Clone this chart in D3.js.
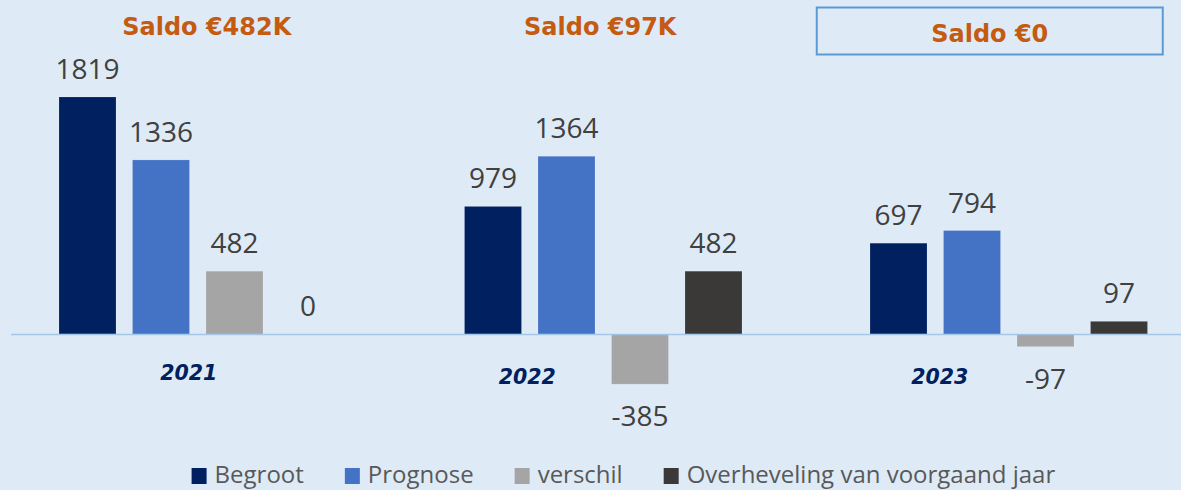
<!DOCTYPE html>
<html>
<head>
<meta charset="utf-8">
<script src="https://cdn.jsdelivr.net/npm/d3@7"></script>
<style>
  html, body { margin: 0; padding: 0; background: #deebf7; }
  svg { display: block; }
</style>
</head>
<body>
<svg id="chart"></svg>
<script>
// data
const years = ["2021", "2022", "2023"];
const seriesNames = ["Begroot", "Prognose", "verschil", "Overheveling van voorgaand jaar"];
const begroot = [1819, 979, 697];
const prognose = [1336, 1364, 794];
const verschil = [482, -385, -97];
const overheveling = [0, 482, 97];
const saldoLabels = ["Saldo €482K", "Saldo €97K", "Saldo €0"];

const colors = ["#002060", "#4472c4", "#a5a5a5", "#3b3838"];
const width = 1181, height = 490;

const svg = d3.select("#chart")
  .attr("width", width)
  .attr("height", height);

// build rows for each bar
const values = [begroot, prognose, verschil, overheveling];
const rows = [];
years.forEach((yr, i) => {
  seriesNames.forEach((s, j) => {
    rows.push({ year: yr, series: s, value: values[j][i], color: colors[j] });
  });
});

// scales
const x0 = d3.scaleBand()
  .domain(years)
  .range([59, 1147.5])
  .paddingInner(0.3157);

const x1 = d3.scaleBand()
  .domain(seriesNames)
  .range([0, x0.bandwidth()])
  .paddingInner(0.2245);

const y = d3.scaleLinear()
  .domain([0, 1819])
  .range([334, 97]);

// bars
svg.append("g")
  .selectAll("rect")
  .data(rows)
  .join("rect")
    .attr("x", d => x0(d.year) + x1(d.series))
    .attr("y", d => Math.min(y(d.value), y(0)))
    .attr("width", x1.bandwidth())
    .attr("height", d => Math.abs(y(d.value) - y(0)))
    .attr("fill", d => d.color)
    .attr("stroke", "#ffffff")
    .attr("stroke-opacity", 0.15)
    .attr("stroke-width", 1);

// zero line
svg.append("line")
  .attr("x1", 11)
  .attr("x2", width)
  .attr("y1", y(0) + 0.5)
  .attr("y2", y(0) + 0.5)
  .attr("stroke", "#9dc3e6")
  .attr("stroke-width", 1.5)
  .attr("stroke-opacity", 0.9);

// value labels
svg.append("g")
  .selectAll("text")
  .data(rows)
  .join("text")
    .attr("x", d => x0(d.year) + x1(d.series) + x1.bandwidth() / 2)
    .attr("y", d => d.value >= 0 ? y(d.value) - 18 : y(d.value) + 42)
    .attr("text-anchor", "middle")
    .attr("font-family", "'Open Sans', sans-serif")
    .attr("font-size", "28px")
    .attr("fill", "#404040")
    .text(d => d.value);

// year labels (placed by hand in the original)
const yearOffsets = [-9, -76, -69];
const yearBase = [380, 384, 384];
svg.append("g")
  .selectAll("text")
  .data(years)
  .join("text")
    .attr("x", (d, i) => x0(d) + x0.bandwidth() / 2 + yearOffsets[i])
    .attr("y", (d, i) => yearBase[i])
    .attr("text-anchor", "middle")
    .attr("font-family", "'DejaVu Sans', Verdana, sans-serif")
    .attr("font-weight", "bold")
    .attr("font-style", "italic")
    .attr("font-size", "20.5px")
    .attr("fill", "#002060")
    .text(d => d);

// saldo titles
const saldoOffsets = [9, -3, -19];
const saldo = svg.append("g")
  .selectAll("g")
  .data(saldoLabels)
  .join("g")
    .attr("transform", (d, i) =>
      `translate(${x0(years[i]) + x0.bandwidth() / 2 + saldoOffsets[i]}, 0)`);

saldo.filter((d, i) => i === 2)
  .append("rect")
    .attr("x", -173)
    .attr("y", 7.5)
    .attr("width", 346)
    .attr("height", 47)
    .attr("fill", "none")
    .attr("stroke", "#5b9bd5")
    .attr("stroke-width", 2);

saldo.append("text")
  .attr("x", 0)
  .attr("y", (d, i) => i === 2 ? 42 : 35)
  .attr("text-anchor", "middle")
  .attr("font-family", "'DejaVu Sans', Verdana, sans-serif")
  .attr("font-weight", "bold")
  .attr("font-size", "24px")
  .attr("fill", "#c55a11")
  .text(d => d);

// legend
const legend = svg.append("g")
  .attr("font-family", "'Open Sans', sans-serif")
  .attr("font-size", "24px")
  .attr("fill", "#595959");

const items = legend.selectAll("g")
  .data(seriesNames)
  .join("g");

items.append("rect")
  .attr("width", 15)
  .attr("height", 16)
  .attr("y", 468)
  .attr("fill", (d, i) => colors[i]);

items.append("text")
  .attr("x", 23)
  .attr("y", 483)
  .text(d => d);

// lay items out in a row, centred
const gap = 41;
let cursor = 0;
const positions = [];
items.each(function () {
  const w = this.getBBox().width;
  positions.push(cursor);
  cursor += w + gap;
});
const total = cursor - gap;
const start = 623.5 - total / 2;
items.attr("transform", (d, i) => `translate(${start + positions[i]}, 0)`);
</script>
</body>
</html>
